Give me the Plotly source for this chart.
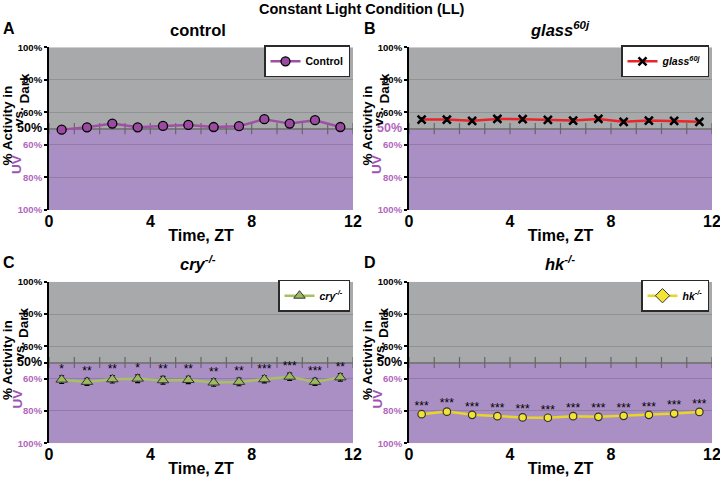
import plotly.graph_objects as go

# Values are signed deviation from 50%: positive = % activity in Dark above 50,
# negative = % activity in UV above 50.
time = [0.5, 1.5, 2.5, 3.5, 4.5, 5.5, 6.5, 7.5, 8.5, 9.5, 10.5, 11.5]
hour_ticks = [0, 1, 2, 3, 4, 5, 6, 7, 8, 9, 10, 11, 12]

control = [-0.6, 0.8, 3.1, 0.8, 1.7, 2.3, 1.0, 1.5, 5.8, 3.1, 5.2, 1.0]
control_err = [1.3, 1.5, 1.4, 1.6, 1.3, 1.7, 1.5, 1.4, 1.3, 1.4, 1.5, 1.4]

glass = [5.6, 5.6, 4.8, 6.0, 5.8, 5.4, 5.0, 6.0, 4.2, 5.0, 4.8, 4.2]
glass_err = [1.0, 1.1, 0.9, 1.0, 1.0, 0.9, 1.0, 1.0, 0.9, 1.0, 0.9, 0.9]

cry = [-10.6, -12.0, -10.4, -10.0, -11.0, -10.8, -12.4, -12.0, -10.4, -8.8, -12.0, -9.2]
cry_err = [2.4, 2.2, 2.3, 2.4, 2.4, 2.3, 2.3, 2.4, 2.2, 2.2, 2.2, 2.3]
cry_sig = ["*", "**", "**", "*", "**", "**", "**", "**", "***", "***", "***", "**"]

hk = [-32.0, -30.4, -32.4, -33.2, -34.0, -34.2, -33.2, -33.6, -33.0, -32.4, -31.6, -30.6]
hk_err = [0.8, 0.8, 0.7, 0.8, 0.8, 0.7, 0.8, 0.8, 0.7, 0.8, 0.8, 0.8]
hk_sig = ["***", "***", "***", "***", "***", "***", "***", "***", "***", "***", "***", "***"]

y_tickvals = [50, 30, 10, 0, -10, -30, -50]
y_ticknum = ["100%", "80%", "60%", "50%", "60%", "80%", "100%"]
x_tickvals = [0, 4, 8, 12]

FONT = "Liberation Sans, Arial, sans-serif"
GRAY_BG = "#a8a9ab"
PURPLE_BG = "#aa8fc5"
TICK_PURPLE = "#b066bb"

W, H = 720, 477
panels = [
    dict(x0=49, x1=353, y0=47.3, y1=210.0),
    dict(x0=409, x1=712, y0=47.3, y1=210.0),
    dict(x0=49, x1=353, y0=281.7, y1=443.3),
    dict(x0=409, x1=712, y0=281.7, y1=443.3),
]
mid_label_purple = [False, True, False, False]

fig = go.Figure()
layout = dict(
    width=W, height=H, margin=dict(l=0, r=0, t=0, b=0, autoexpand=False),
    paper_bgcolor="white", plot_bgcolor="rgba(0,0,0,0)",
    font=dict(family=FONT, color="black"),
    shapes=[], annotations=[],
)

def ticktexts(purple_mid):
    out = []
    for v, t in zip(y_tickvals, y_ticknum):
        if v == 0:
            col = TICK_PURPLE if purple_mid else "black"
            out.append(f"<span style='font-size:12.5px;color:{col}'>{t}</span>")
        elif v > 0:
            out.append(f"<span style='color:black'>{t}</span>")
        else:
            out.append(f"<span style='color:{TICK_PURPLE}'>{t}</span>")
    return out

for i, p in enumerate(panels):
    k = "" if i == 0 else str(i + 1)
    xd = [p["x0"] / W, p["x1"] / W]
    yd = [1 - p["y1"] / H, 1 - p["y0"] / H]
    layout["xaxis" + k] = dict(
        domain=xd, range=[0, 12], anchor="y" + k, tickvals=x_tickvals, automargin=False,
        showgrid=False, zeroline=False, showline=False, ticks="",
        tickfont=dict(size=16, family=FONT, color="black", weight="bold"),
        ticklabelstandoff=0, ticklabeloverflow="allow",
        title=dict(text="<b>Time, ZT</b>", font=dict(size=16, family=FONT), standoff=0),
    )
    layout["yaxis" + k] = dict(
        domain=yd, range=[-50, 50], anchor="x" + k, automargin=False,
        tickvals=y_tickvals, ticktext=ticktexts(mid_label_purple[i]),
        tickfont=dict(size=9.5, family=FONT, weight="bold"),
        showgrid=True, gridcolor="rgba(60,60,60,0.22)", gridwidth=1,
        zeroline=True, zerolinecolor="#7a7a7d", zerolinewidth=1.5,
        showline=True, linecolor="black", linewidth=2,
        ticks="outside", ticklen=3, tickcolor="black", tickwidth=1.5,
        ticklabelstandoff=0,
    )
    xr = "x" + k
    yr = "y" + k
    layout["shapes"].append(dict(type="rect", xref=xr, yref=yr, x0=0, x1=12, y0=0, y1=50,
                                 fillcolor=GRAY_BG, line=dict(width=0), layer="below"))
    layout["shapes"].append(dict(type="rect", xref=xr, yref=yr, x0=0, x1=12, y0=-50, y1=0,
                                 fillcolor=PURPLE_BG, line=dict(width=0), layer="below"))
    fig.add_trace(go.Scatter(
        x=hour_ticks, y=[0] * len(hour_ticks), mode="markers", xaxis=xr, yaxis=yr,
        marker=dict(symbol="line-ns", size=8, line=dict(color="#66666a", width=1.2)),
        showlegend=False, hoverinfo="skip"))
    yoff = p["y0"] - 47.3
    xoff = p["x0"] - 49
    def ya(text, x, ypx, color="black", size=13.5):
        layout["annotations"].append(dict(
            text=text, xref="paper", yref="paper", x=(x + xoff) / W,
            y=1 - (ypx + yoff) / H, showarrow=False, textangle=-90,
            font=dict(size=size, color=color, family=FONT), xanchor="center", yanchor="middle"))
    ya("<b>% Activity in</b>", 7.5, 126)
    ya("<b>UV</b>", 17, 165, color="#a054b4")
    ya("<b>vs.</b>", 19, 117)
    ya("<b>Dark</b>", 23.5, 88)

def legend_cfg(p):
    return dict(x=(p["x1"] - 3) / W, y=1 - (p["y0"] - 2) / H, xanchor="right", yanchor="top",
                bgcolor="white", bordercolor="#2a2a2a", borderwidth=1.5,
                font=dict(size=10.5, family=FONT, color="black"),
                itemwidth=30, tracegroupgap=0)

layout["legend"] = legend_cfg(panels[0])
layout["legend2"] = legend_cfg(panels[1])
layout["legend3"] = legend_cfg(panels[2])
layout["legend4"] = legend_cfg(panels[3])

fig.add_trace(go.Scatter(
    x=time, y=control, mode="lines+markers", name="<b>Control</b>", xaxis="x", yaxis="y",
    legend="legend",
    line=dict(color="#a04fa6", width=2.5),
    marker=dict(symbol="circle", size=9, color="#9a4aa0", line=dict(color="black", width=1.3)),
    error_y=dict(type="data", array=control_err, color="black", thickness=1.3, width=2)))

fig.add_trace(go.Scatter(
    x=time, y=glass, mode="lines+markers", name="<b><i>glass<sup>60j</sup></i></b>",
    xaxis="x2", yaxis="y2", legend="legend2",
    line=dict(color="#e8262a", width=2.5),
    marker=dict(symbol="x-thin", size=8, color="black", line=dict(color="black", width=2.5)),
    error_y=dict(type="data", array=glass_err, color="black", thickness=1.3, width=3)))

fig.add_trace(go.Scatter(
    x=time, y=cry, mode="lines+markers", name="<b><i>cry<sup>-/-</sup></i></b>",
    xaxis="x3", yaxis="y3", legend="legend3",
    line=dict(color="#a6c062", width=2.5),
    marker=dict(symbol="triangle-up", size=10, color="#9dbb5c", line=dict(color="#333", width=1)),
    error_y=dict(type="data", array=cry_err, color="black", thickness=1.2, width=2.5)))
fig.add_trace(go.Scatter(
    x=time, y=[v + e for v, e in zip(cry, cry_err)], mode="text", text=cry_sig,
    textposition="top center", textfont=dict(size=12, family=FONT, color="black"),
    xaxis="x3", yaxis="y3", showlegend=False, hoverinfo="skip"))

fig.add_trace(go.Scatter(
    x=time, y=hk, mode="lines+markers", name="hk", showlegend=False,
    xaxis="x4", yaxis="y4",
    line=dict(color="#e9d42a", width=2.5),
    marker=dict(symbol="circle", size=7.5, color="#f2e335", line=dict(color="#333", width=1.2)),
    error_y=dict(type="data", array=hk_err, color="black", thickness=1.2, width=2)))
fig.add_trace(go.Scatter(
    x=[None], y=[None], mode="lines+markers", name="<b><i>hk<sup>-/-</sup></i></b>",
    xaxis="x4", yaxis="y4", legend="legend4",
    line=dict(color="#e9d42a", width=2.5),
    marker=dict(symbol="diamond", size=11, color="#f2e335", line=dict(color="#333", width=1))))
fig.add_trace(go.Scatter(
    x=time, y=[v + e for v, e in zip(hk, hk_err)], mode="text", text=hk_sig,
    textposition="top center", textfont=dict(size=12, family=FONT, color="black"),
    xaxis="x4", yaxis="y4", showlegend=False, hoverinfo="skip"))

def ann(text, x, y, size, xanchor="center"):
    layout["annotations"].append(dict(text=text, xref="paper", yref="paper", x=x / W, y=1 - y / H,
                                      showarrow=False, xanchor=xanchor, yanchor="middle",
                                      font=dict(size=size, family=FONT, color="black")))

ann("<b>Constant Light Condition (LL)</b>", 362, 9, 14.5)
ann("<b>control</b>", 198, 30, 16.5)
ann("<b><i>glass<sup>60j</sup></i></b>", 560, 29, 16.5)
ann("<b><i>cry<sup>-/-</sup></i></b>", 198, 263, 16.5)
ann("<b><i>hk<sup>-/-</sup></i></b>", 560, 263, 16.5)
ann("<b>A</b>", 1, 28, 16, "left")
ann("<b>B</b>", 362, 28, 16, "left")
ann("<b>C</b>", 1, 262, 16, "left")
ann("<b>D</b>", 362, 262, 16, "left")

fig.update_layout(**layout)
fig.write_html("out.html", config={"displayModeBar": False},
               post_script="document.body.style.margin='0';document.body.style.padding='0';")
